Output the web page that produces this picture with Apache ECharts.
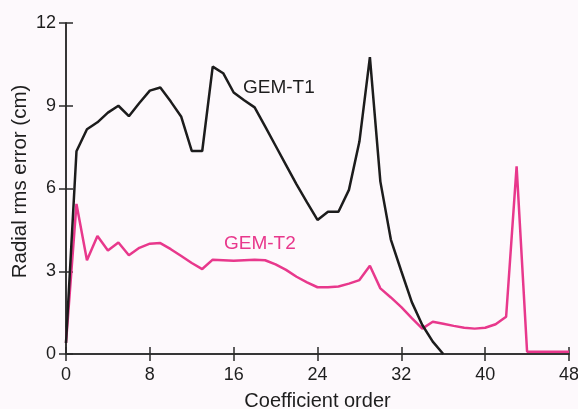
<!DOCTYPE html>
<html>
<head>
<meta charset="utf-8">
<script src="https://cdn.jsdelivr.net/npm/echarts@6/dist/echarts.min.js"></script>
<style>
html,body{margin:0;padding:0;background:#fdf9fc;}
#c{width:578px;height:409px;}
</style>
</head>
<body>
<div id="c"></div>
<script>
const orderT1 = [0,1,2,3,4,5,6,7,8,9,10,11,12,13,14,15,16,17,18,19,20,21,22,23,24,25,26,27,28,29,30,31,32,33,34,35,36];
const errT1 = [0.4,7.35,8.15,8.4,8.75,9.0,8.62,9.1,9.55,9.66,9.15,8.6,7.36,7.36,10.42,10.18,9.48,9.2,8.94,8.25,7.55,6.85,6.15,5.5,4.86,5.16,5.16,5.95,7.7,10.76,6.25,4.15,3.0,1.88,1.05,0.45,0];
const orderT2 = [0,1,2,3,4,5,6,7,8,9,10,11,12,13,14,15,16,17,18,19,20,21,22,23,24,25,26,27,28,29,30,31,32,33,34,35,36,37,38,39,40,41,42,43,44,45,46,47,48];
const errT2 = [0.4,5.44,3.4,4.28,3.75,4.04,3.58,3.85,4.0,4.02,3.8,3.55,3.3,3.08,3.42,3.4,3.38,3.4,3.42,3.4,3.25,3.05,2.8,2.6,2.42,2.42,2.45,2.55,2.68,3.2,2.38,2.05,1.7,1.3,0.92,1.17,1.1,1.02,0.95,0.92,0.95,1.08,1.35,6.8,0.08,0.08,0.08,0.08,0.08];
const xTicks = [0,8,16,24,32,40,48];
const yTicks = [0,3,6,9,12];
const xTitle = 'Coefficient order';
const yTitle = 'Radial rms error (cm)';

const FONT = '"Liberation Sans", Arial, sans-serif';
const TXT = '#1e1e1e';
const chart = echarts.init(document.getElementById('c'));
const axisLine = {show:true, lineStyle:{color:'#2a2a2a', width:1.5}};
const axisTick = {show:true, inside:true, length:7, lineStyle:{color:'#2a2a2a', width:1.5}};
chart.setOption({
  backgroundColor:'#fdf9fc',
  animation:false,
  grid:{left:66, right:9, top:23, bottom:55, containLabel:false, outerBoundsMode:'none'},
  xAxis:[
    {type:'value', min:xTicks[0], max:xTicks[xTicks.length-1], interval:8, position:'bottom',
     axisLine, axisTick, splitLine:{show:false},
     axisLabel:{color:TXT, fontSize:18, fontFamily:FONT, margin:12},
     name:xTitle, nameLocation:'middle', nameGap:37,
     nameTextStyle:{color:TXT, fontSize:20, fontFamily:FONT}},
    {type:'value', min:0, max:48, interval:8, position:'top',
     axisLine, axisTick, splitLine:{show:false}, axisLabel:{show:false}}
  ],
  yAxis:[
    {type:'value', min:yTicks[0], max:yTicks[yTicks.length-1], interval:3, position:'left',
     axisLine, axisTick, splitLine:{show:false},
     axisLabel:{color:TXT, fontSize:18, fontFamily:FONT, margin:10}},
    {type:'value', min:0, max:12, interval:3, position:'right',
     axisLine, axisTick, splitLine:{show:false}, axisLabel:{show:false}}
  ],
  series:[
    {name:'GEM-T1', type:'line', xAxisIndex:0, yAxisIndex:0, symbol:'none',
     lineStyle:{color:'#1c1c1c', width:2.5}, data:orderT1.map((x,i)=>[x,errT1[i]]), z:3},
    {name:'GEM-T2', type:'line', xAxisIndex:0, yAxisIndex:0, symbol:'none',
     lineStyle:{color:'#e8388c', width:2.5}, data:orderT2.map((x,i)=>[x,errT2[i]]), z:2}
  ],
  graphic:[
    {type:'text', x:20, y:181.5, rotation:Math.PI/2,
     style:{text:yTitle, fill:TXT, font:'20.5px '+FONT, align:'center', verticalAlign:'middle'}},
    {type:'text', left:243, top:78, style:{text:'GEM-T1', fill:TXT, font:'19px '+FONT}},
    {type:'text', left:224, top:234, style:{text:'GEM-T2', fill:'#e8388c', font:'19px '+FONT}}
  ]
});
</script>
</body>
</html>
